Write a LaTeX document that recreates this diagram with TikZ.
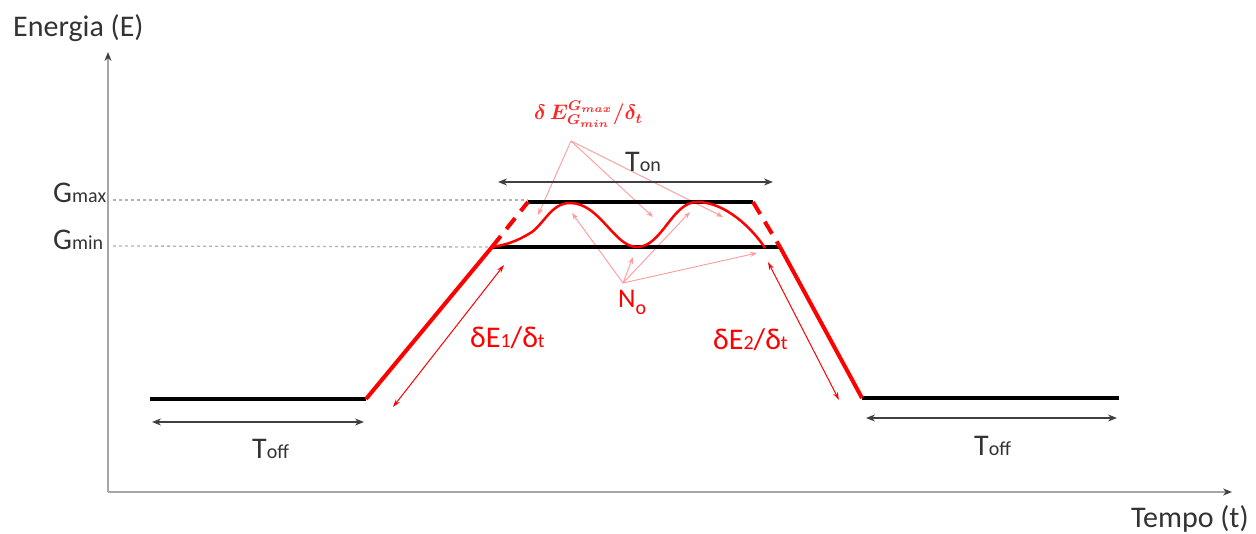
\documentclass[tikz,border=0pt]{standalone}
\usepackage{fontspec}
\setmainfont{Carlito}
\usetikzlibrary{arrows.meta}
\definecolor{txt}{HTML}{333333}
\definecolor{axisgray}{HTML}{A6A6A6}
\definecolor{dimgray}{HTML}{404040}
\definecolor{lightred}{HTML}{FF9A9A}
\newcommand\smallsub[1]{{\fontsize{20}{22}\selectfont #1}}
\begin{document}
\begin{tikzpicture}[x=1pt,y=-1pt,
  axis/.style={draw=axisgray, line width=2.5pt, -{Stealth[length=9pt,width=7pt,color=dimgray]}},
  level/.style={draw=black, line width=4pt},
  ramp/.style={draw=red, line width=4pt},
  rampdash/.style={draw=red, line width=4pt, dash pattern=on 14pt off 9pt},
  guide/.style={draw=gray!60, line width=1.3pt, dash pattern=on 3pt off 3pt},
  span/.style={draw=dimgray, line width=1.8pt, {Stealth[length=9pt,width=7pt]}-{Stealth[length=9pt,width=7pt]}},
  slope/.style={draw=red, line width=1pt, {Stealth[length=8pt,width=5pt]}-{Stealth[length=8pt,width=5pt]}},
  pointer/.style={draw=lightred, line width=0.9pt, -{Stealth[length=7pt,width=5pt]}},
  wave/.style={draw=red, line width=2.5pt},
  lbl/.style={inner sep=0pt, anchor=base west, text=txt, font=\fontsize{30}{32}\selectfont},
  rlbl/.style={lbl, text=red}]
\useasboundingbox (0,0) rectangle (1256,534);

% key points
\coordinate (yo) at (108,492);
\coordinate (ytip) at (108,52);
\coordinate (xtip) at (1232,492);
\coordinate (L0) at (150,399);
\coordinate (L1) at (366,399);
\coordinate (A) at (492,247);
\coordinate (B) at (780,247);
\coordinate (C) at (528,202);
\coordinate (D) at (753,202);
\coordinate (R0) at (862,398);
\coordinate (R1) at (1119,398);
\coordinate (gmaxL) at (113,200);
\coordinate (gminL) at (113,246);
\coordinate (gmaxR) at (528,200);
\coordinate (toffLa) at (152,422);
\coordinate (toffLb) at (364,422);
\coordinate (toffRa) at (866,418);
\coordinate (toffRb) at (1117,418);
\coordinate (tonA) at (498,182);
\coordinate (tonB) at (773,182);
\coordinate (s1a) at (393,407);
\coordinate (s1b) at (504,265);
\coordinate (s2a) at (768,262);
\coordinate (s2b) at (839,400);
\coordinate (gradO) at (571,141);
\coordinate (g1) at (538,215);
\coordinate (g2) at (653,217);
\coordinate (g3) at (723,217);
\coordinate (noO) at (623,283);
\coordinate (n1) at (572,213);
\coordinate (n2) at (633,257);
\coordinate (n3) at (690,212);
\coordinate (n4) at (757,253);
\coordinate (P1) at (570,203);
\coordinate (T1) at (637,247);
\coordinate (P2) at (697,202);
\coordinate (W) at (765,248);
\coordinate (Sh) at (532,232);

% axes
\draw[axis] (yo) -- (ytip);
\draw[axis] (yo) -- (xtip);

% guides
\draw[guide] (gmaxL) -- (gmaxR);
\draw[guide] (gminL) -- (A);

% pointers
\foreach \t in {g1,g2,g3} \draw[pointer] (gradO) -- (\t);
\foreach \t in {n1,n2,n3,n4} \draw[pointer] (noO) -- (\t);

% levels
\draw[level] (L0) -- (L1);
\draw[level] (A) -- (B);
\draw[level] (C) -- (D);
\draw[level] (R0) -- (R1);

% ramps
\draw[ramp] (L1) -- (A);
\draw[rampdash] (A) -- (C);
\draw[rampdash] (D) -- (B);
\draw[ramp] (B) -- (R0);

% oscillation
\draw[wave] (A) .. controls (512,244) and (522,238) .. (Sh)
  .. controls (545,222) and (552,203) .. (P1)
  .. controls (600,203) and (614,247) .. (T1)
  .. controls (662,247) and (672,202) .. (P2)
  .. controls (725,202) and (752,228) .. (W);

% spans
\draw[span] (toffLa) -- (toffLb);
\draw[span] (toffRa) -- (toffRb);
\draw[span] (tonA) -- (tonB);
\draw[slope] (s1a) -- (s1b);
\draw[slope] (s2a) -- (s2b);

% labels
\node[lbl] (ylab) at (13,37) {Energia (E)};
\node[lbl] (xlab) at (1131,527) {Tempo (t)};
\node[lbl] (gmax) at (53,203) {G\smallsub{max}};
\node[lbl] (gmin) at (53,250) {G\smallsub{min}};
\node[lbl] (toffL) at (252,459) {T\smallsub{off}};
\node[lbl] (toffR) at (974,455) {T\smallsub{off}};
\node[lbl] (ton) at (625,172) {T\smallsub{on}};
\node[rlbl] (d1) at (470,348) {δE\smallsub{1}/δ\smallsub{t}};
\node[rlbl] (d2) at (713,350) {δE\smallsub{2}/δ\smallsub{t}};
\node[rlbl, font=\fontsize{27}{29}\selectfont] (no) at (618,308) {N\lower7pt\hbox{\smallsub{o}}};
\node[inner sep=0pt, anchor=base west, text=red!85, font=\fontsize{12}{14}\selectfont] (grad) at (534,120) {\scalebox{1.75}{\boldmath$\delta\,E^{G_{max}}_{G_{min}}/\delta_t$}};
\end{tikzpicture}
\end{document}
